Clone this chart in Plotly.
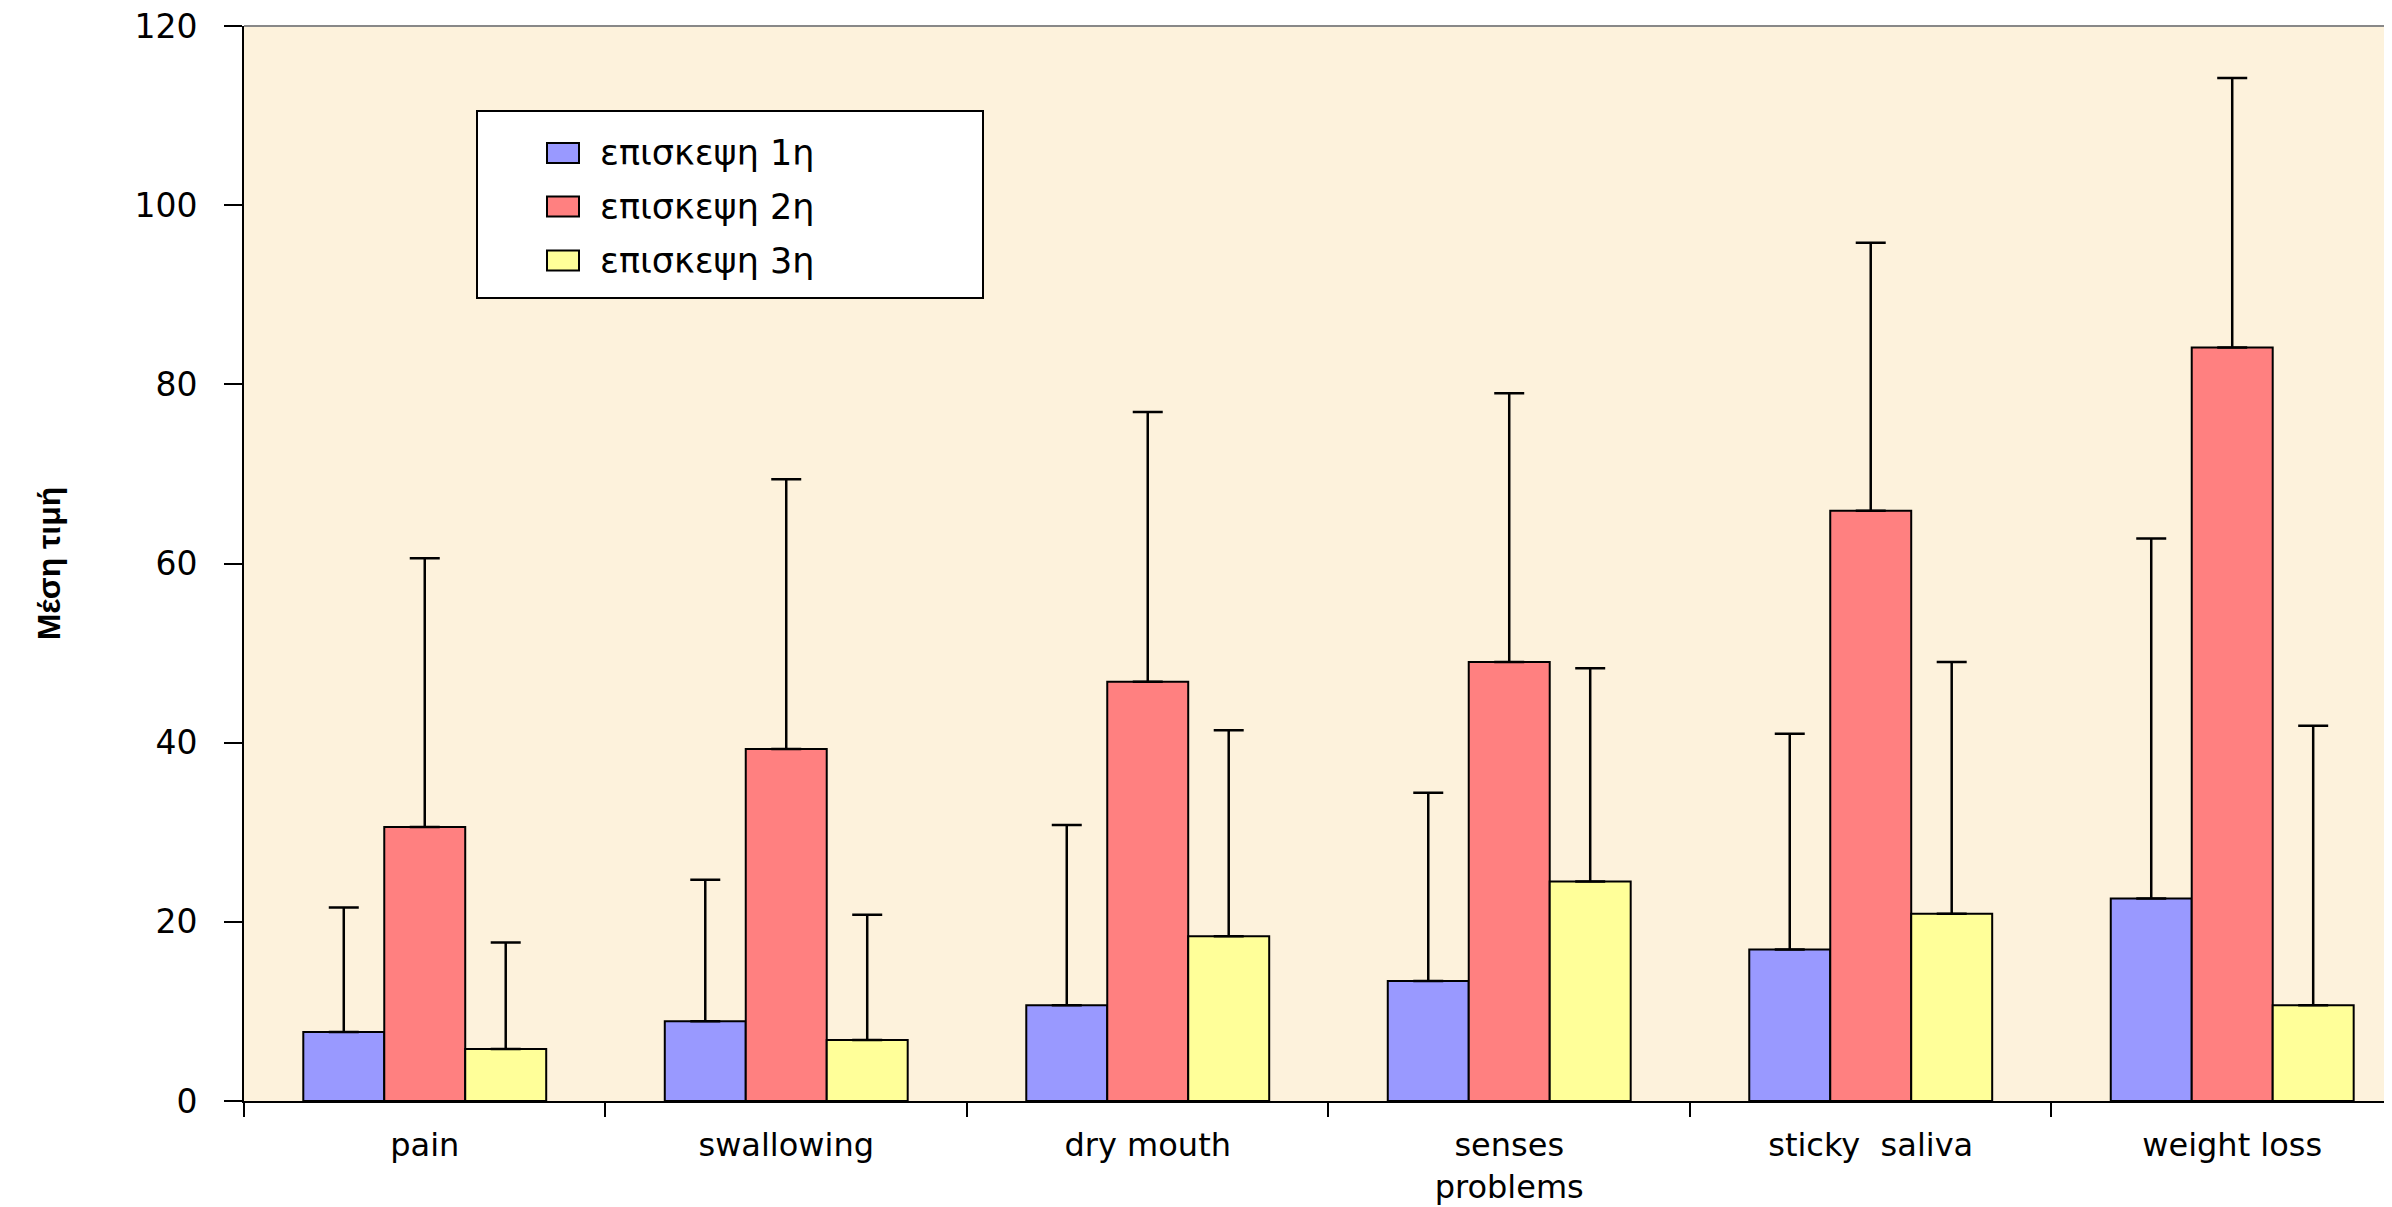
import plotly.graph_objects as go

categories = ["pain", "swallowing", "dry mouth", "senses<br>problems", "sticky  saliva", "weight loss"]
series_names = ["επισκεψη 1η", "επισκεψη 2η", "επισκεψη 3η"]

visit1 = [7.7, 8.9, 10.7, 13.4, 16.9, 22.6]
visit2 = [30.6, 39.3, 46.8, 49.0, 65.9, 84.1]
visit3 = [5.8, 6.8, 18.4, 24.5, 20.9, 10.7]

visit1_err = [13.9, 15.8, 20.1, 21.0, 24.1, 40.2]
visit2_err = [30.0, 30.1, 30.1, 30.0, 29.9, 30.1]
visit3_err = [11.9, 14.0, 23.0, 23.8, 28.1, 31.2]

y_ticks = [0, 20, 40, 60, 80, 100, 120]

colors = ["#9999FF", "#FF8080", "#FFFF99"]

font_family = "DejaVu Sans, Liberation Sans, Arial, sans-serif"

# page geometry (the page body adds an 8px offset)
W, H = 2384, 1199
ML, MR, MT, MB = 236, 0, 18, 106
PW, PH = W - ML - MR, H - MT - MB


def px_to_paper(xw, yw):
    # window pixel -> paper coordinate
    return (xw - 8 - ML) / PW, 1 - (yw - 8 - MT) / PH


fig = go.Figure()
for name, vals, errs, col in zip(series_names, [visit1, visit2, visit3],
                                 [visit1_err, visit2_err, visit3_err], colors):
    fig.add_trace(go.Bar(
        x=categories, y=vals, name=name, showlegend=False,
        marker=dict(color=col, line=dict(color="black", width=2)),
        error_y=dict(type="data", symmetric=False, array=errs,
                     arrayminus=[0] * len(errs), color="black",
                     thickness=2.5, width=15),
    ))

# custom legend box (layout decoration)
shapes = []
annotations = []
bx0, by0 = px_to_paper(477, 111)
bx1, by1 = px_to_paper(983, 298)
shapes.append(dict(type="rect", xref="paper", yref="paper", x0=bx0, x1=bx1, y0=by0, y1=by1,
                   fillcolor="white", line=dict(color="black", width=2), layer="above"))
row_centers = [153, 206.5, 260.5]
for name, col, yc in zip(series_names, colors, row_centers):
    sx0, sy0 = px_to_paper(547, yc - 10)
    sx1, sy1 = px_to_paper(579, yc + 10)
    shapes.append(dict(type="rect", xref="paper", yref="paper", x0=sx0, x1=sx1, y0=sy0, y1=sy1,
                       fillcolor=col, line=dict(color="black", width=2), layer="above"))
    tx, ty = px_to_paper(598, yc)
    annotations.append(dict(text=name, xref="paper", yref="paper", x=tx, y=ty,
                            xanchor="left", yanchor="middle", showarrow=False,
                            font=dict(family=font_family, size=35, color="black")))

# grey top border of the plot area
shapes.append(dict(type="line", xref="paper", yref="paper", x0=0, x1=1, y0=1, y1=1,
                   line=dict(color="#888888", width=2)))

fig.update_layout(
    width=W, height=H,
    margin=dict(l=ML, r=MR, t=MT, b=MB, autoexpand=False),
    paper_bgcolor="white",
    plot_bgcolor="#FDF2DC",
    barmode="group",
    bargap=0.328,
    bargroupgap=0,
    showlegend=False,
    font=dict(family=font_family, color="black"),
    xaxis=dict(
        range=[-0.5, 5.442],
        showline=True, linecolor="black", linewidth=2,
        ticks="outside", tickson="boundaries", ticklen=14, tickwidth=2,
        tickcolor="black",
        tickfont=dict(family=font_family, size=32, color="black"),
        showgrid=False, zeroline=False, fixedrange=True,
        ticklabelstandoff=15, ticklabeloverflow="allow",
    ),
    yaxis=dict(
        range=[0, 120], tickvals=y_ticks,
        showline=True, linecolor="black", linewidth=2,
        ticks="outside", ticklen=18, tickwidth=2, tickcolor="black",
        tickfont=dict(family=font_family, size=33, color="black"),
        showgrid=False, zeroline=False, fixedrange=True,
        ticklabelstandoff=20, ticklabeloverflow="allow",
        title=dict(text="<b>Μέση τιμή</b>", standoff=64,
                   font=dict(family="Liberation Sans Narrow, Liberation Sans, Arial, sans-serif",
                             size=32, color="black")),
    ),
    shapes=shapes,
    annotations=annotations,
)

fig.write_html("out.html")
